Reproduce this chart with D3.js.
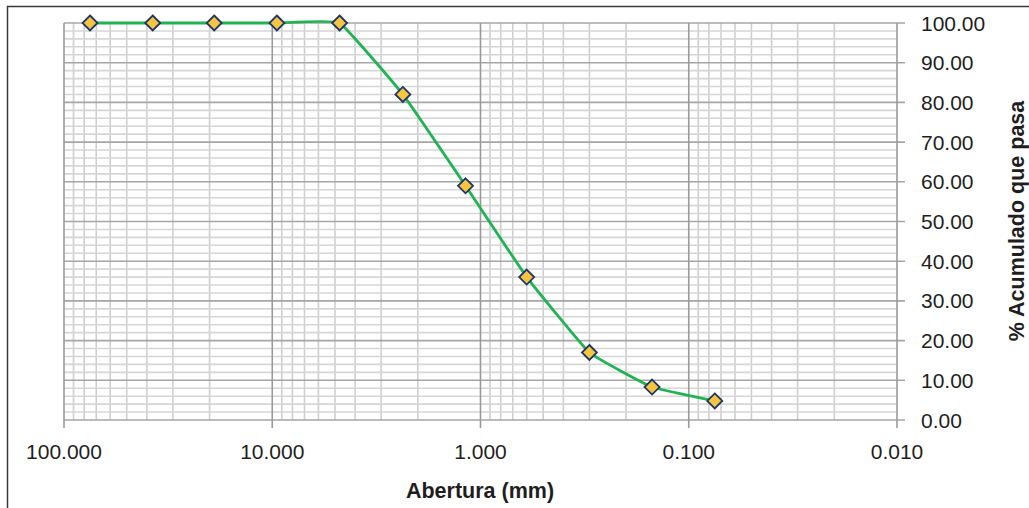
<!DOCTYPE html>
<html><head><meta charset="utf-8">
<script src="https://cdn.jsdelivr.net/npm/d3@7"></script>
<style>
html,body{margin:0;padding:0;background:#fff;overflow:hidden}
svg{display:block}
text{font-family:"Liberation Sans",Arial,sans-serif;fill:#1e1e1e}
</style></head>
<body>
<svg id="chart" width="1029" height="508"></svg>
<script>
// Data
const abertura = [75, 37.5, 19, 9.5, 4.75, 2.36, 1.18, 0.6, 0.3, 0.15, 0.075];
const pasa = [100, 100, 100, 100, 100, 82, 59, 36, 17, 8.3, 4.8];
const xTickValues = [100, 10, 1, 0.1, 0.01];
const xTickLabels = ["100.000", "10.000", "1.000", "0.100", "0.010"];
const yTickValues = [0, 10, 20, 30, 40, 50, 60, 70, 80, 90, 100];
const yTickLabels = ["0.00","10.00","20.00","30.00","40.00","50.00","60.00","70.00","80.00","90.00","100.00"];
const xTitle = "Abertura (mm)";
const yTitle = "% Acumulado que pasa";

const svg = d3.select("#chart");
const L = 64, R = 897, T = 23, B = 420;

// outer border
svg.append("rect").attr("x", 7.5).attr("y", 6.5).attr("width", 1040).attr("height", 520)
  .attr("fill", "none").attr("stroke", "#3a3a3a").attr("stroke-width", 1.5);

const x = d3.scaleLog().domain([100, 0.01]).range([L, R]);
const y = d3.scaleLinear().domain([0, 100]).range([B, T]);

const g = svg.append("g");

// minor vertical grid
const minorX = [];
for (let e = -2; e <= 1; e++) for (let k = 2; k <= 9; k++) minorX.push(k * Math.pow(10, e));
g.selectAll(".vminor").data(minorX).enter().append("line")
  .attr("x1", d => x(d)).attr("x2", d => x(d)).attr("y1", T).attr("y2", B)
  .attr("stroke", "#cfcfcf").attr("stroke-width", 1.6);

// minor horizontal grid
const minorY = d3.range(0, 101, 2).filter(v => v % 10 !== 0);
g.selectAll(".hminor").data(minorY).enter().append("line")
  .attr("x1", L).attr("x2", R).attr("y1", d => y(d)).attr("y2", d => y(d))
  .attr("stroke", "#d6d6d6").attr("stroke-width", 1.6);

// major horizontal grid + right ticks
g.selectAll(".hmajor").data(yTickValues).enter().append("line")
  .attr("x1", L).attr("x2", R + 8).attr("y1", d => y(d)).attr("y2", d => y(d))
  .attr("stroke", "#a6a6a6").attr("stroke-width", 1.6);

// major vertical grid + bottom ticks
g.selectAll(".vmajor").data(xTickValues).enter().append("line")
  .attr("x1", d => x(d)).attr("x2", d => x(d)).attr("y1", T).attr("y2", B + 8)
  .attr("stroke", "#9a9a9a").attr("stroke-width", 1.6);

// x tick labels
g.selectAll(".xl").data(xTickValues).enter().append("text")
  .attr("x", d => x(d)).attr("y", 459).attr("text-anchor", "middle")
  .attr("font-size", 21).text((d, i) => xTickLabels[i]);

// y tick labels (right side)
g.selectAll(".yl").data(yTickValues).enter().append("text")
  .attr("x", 921).attr("y", d => y(d)).attr("dy", "0.36em")
  .attr("font-size", 21).text((d, i) => yTickLabels[i]);

// titles
svg.append("text").attr("x", 480).attr("y", 498).attr("text-anchor", "middle")
  .attr("font-size", 21.5).attr("font-weight", "bold").text(xTitle);
svg.append("text").attr("transform", "translate(1024,221) rotate(-90)")
  .attr("text-anchor", "middle").attr("font-size", 21.5).attr("font-weight", "bold").text(yTitle);

// line
const pts = abertura.map((a, i) => [x(a), y(pasa[i])]);
svg.append("path").datum(pts)
  .attr("d", d3.line().curve(d3.curveCardinal.tension(0.7)))
  .attr("fill", "none").attr("stroke", "#21b353").attr("stroke-width", 2.8);

// markers
svg.selectAll(".mk").data(pts).enter().append("path")
  .attr("transform", d => `translate(${d[0]},${d[1]})`)
  .attr("d", "M0,-7.5L7.5,0L0,7.5L-7.5,0Z")
  .attr("fill", "#f5c542").attr("stroke", "#1f3565").attr("stroke-width", 1.8);
</script>
</body></html>
